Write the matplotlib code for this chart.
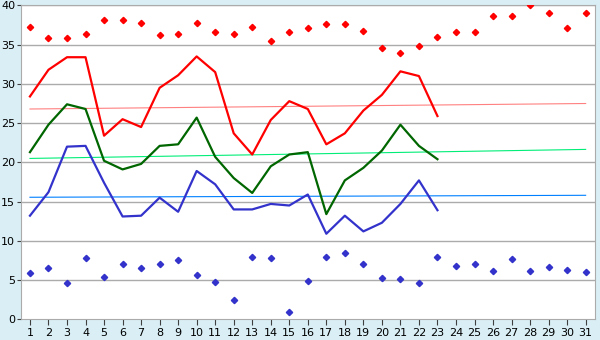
import numpy as np
import matplotlib
matplotlib.use('Agg')
import matplotlib.pyplot as plt

# data
days = list(range(1, 32))
line_days = list(range(1, 24))

red_line = [28.4, 31.8, 33.4, 33.4, 23.4, 25.5, 24.5, 29.5, 31.1, 33.5,
            31.5, 23.7, 21.0, 25.4, 27.8, 26.8, 22.3, 23.7, 26.6, 28.6,
            31.6, 31.0, 25.9]
green_line = [21.3, 24.8, 27.4, 26.8, 20.2, 19.1, 19.8, 22.1, 22.3, 25.7,
              20.7, 18.0, 16.1, 19.5, 21.0, 21.3, 13.4, 17.7, 19.3, 21.5,
              24.8, 22.1, 20.4]
blue_line = [13.2, 16.2, 22.0, 22.1, 17.4, 13.1, 13.2, 15.5, 13.7, 18.9,
             17.2, 14.0, 14.0, 14.7, 14.5, 15.9, 10.9, 13.2, 11.2, 12.3,
             14.7, 17.7, 13.9]

max_points = [37.2, 35.8, 35.8, 36.4, 38.2, 38.1, 37.8, 36.2, 36.3, 37.7,
              36.6, 36.3, 37.3, 35.5, 36.6, 37.1, 37.6, 37.6, 36.8, 34.6,
              34.0, 34.8, 36.0, 36.6, 36.6, 38.6, 38.6, 40.0, 39.1, 37.1,
              39.1]
min_points = [5.9, 6.5, 4.6, 7.8, 5.4, 7.0, 6.5, 7.0, 7.5, 5.7,
              4.7, 2.4, 7.9, 7.8, 0.9, 4.9, 7.9, 8.4, 7.0, 5.2,
              5.1, 4.6, 7.9, 6.8, 7.1, 6.1, 7.7, 6.1, 6.6, 6.3,
              6.0]

# trend lines (start, end)
red_trend = [26.8, 27.5]
green_trend = [20.5, 21.65]
blue_trend = [15.55, 15.8]

bg = '#d9eef5'
grey = '#ababab'

fig = plt.figure(figsize=(6, 3.4), dpi=100, facecolor=bg)
ax = fig.add_axes([0.0345, 0.061, 0.957, 0.923])
ax.set_facecolor('white')

for y in range(5, 41, 5):
    ax.axhline(y, color=grey, lw=1, zorder=1)

ends = [days[0], days[-1]]
ax.plot(ends, red_trend, color='#ff8080', lw=0.8, zorder=2)
ax.plot(ends, green_trend, color='#00ee77', lw=0.8, zorder=2)
ax.plot(ends, blue_trend, color='#0080ff', lw=0.8, zorder=2)

ax.plot(line_days, red_line, color='#ff0000', lw=1.6, zorder=3)
ax.plot(line_days, green_line, color='#006600', lw=1.6, zorder=3)
ax.plot(line_days, blue_line, color='#3333cc', lw=1.6, zorder=3)

ax.plot(days, max_points, ls='none', marker='D', ms=3.2, color='#ff0000', zorder=4)
ax.plot(days, min_points, ls='none', marker='D', ms=3.2, color='#3333cc', zorder=4)

ax.set_xlim(0.5, 31.5)
ax.set_ylim(0, 40)
ax.set_xticks(days)
ax.set_yticks(range(0, 41, 5))
ax.tick_params(axis='x', labelsize=8, color='#404040', length=4, pad=2)
ax.tick_params(axis='y', labelsize=8, color='#404040', length=3, pad=1)
for side in ['left', 'bottom', 'right', 'top']:
    ax.spines[side].set_color(grey)

plt.savefig('out.png', dpi=100, facecolor=bg)
